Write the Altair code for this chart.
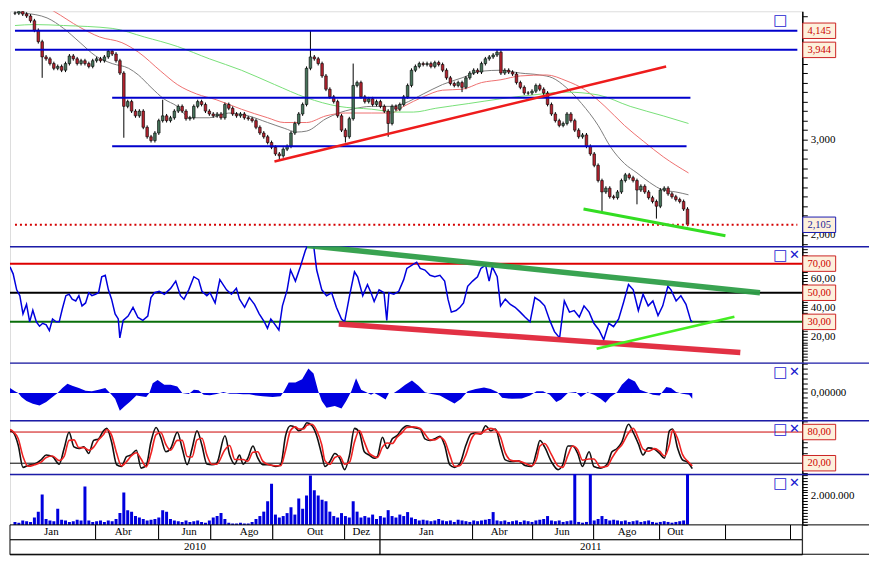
import altair as alt
import pandas as pd

# ---------------- layout / style ----------------
W = 796
EXT = 67
H_PRICE, H_RSI, H_HIST, H_STO, H_VOL, H_AX = 236, 117, 58, 54, 51, 30
SERIF = "Liberation Serif"
SEP = "#1c1ca8"
ICON = "#1a1ad0"
BOX_FILL = "#fdf0dc"
UP, DOWN = "#46735a", "#b3222e"
WICK = 0.02

# ---------------- data ----------------
close = [4.33, 4.35, 4.32, 4.30, 4.25, 4.15, 4.03, 3.87, 3.85, 3.80,
         3.75, 3.77, 3.73, 3.80, 3.88, 3.85, 3.80, 3.83, 3.80, 3.77,
         3.83, 3.85, 3.83, 3.87, 3.93, 3.90, 3.83, 3.70, 3.35, 3.40,
         3.30, 3.25, 3.30, 3.13, 3.03, 2.99, 3.07, 3.20, 3.25, 3.20,
         3.23, 3.30, 3.35, 3.30, 3.22, 3.23, 3.35, 3.40, 3.37, 3.30,
         3.27, 3.25, 3.27, 3.23, 3.37, 3.33, 3.27, 3.25, 3.27, 3.23,
         3.22, 3.20, 3.13, 3.07, 3.03, 2.97, 2.92, 2.85, 2.83, 2.90,
         2.93, 3.07, 3.17, 3.27, 3.37, 3.75, 3.87, 3.85, 3.80, 3.67,
         3.53, 3.45, 3.40, 3.25, 3.10, 3.03, 3.22, 3.57, 3.60, 3.45,
         3.40, 3.43, 3.37, 3.40, 3.35, 3.30, 3.17, 3.35, 3.32, 3.37,
         3.45, 3.57, 3.73, 3.77, 3.80, 3.79, 3.80, 3.77, 3.81, 3.79,
         3.73, 3.65, 3.59, 3.57, 3.60, 3.55, 3.65, 3.70, 3.73, 3.71,
         3.80, 3.85, 3.87, 3.89, 3.92, 3.70, 3.73, 3.71, 3.69, 3.60,
         3.55, 3.49, 3.49, 3.51, 3.57, 3.53, 3.49, 3.37, 3.27, 3.20,
         3.15, 3.17, 3.27, 3.20, 3.10, 3.03, 3.05, 2.93, 2.85, 2.73,
         2.57, 2.45, 2.49, 2.40, 2.39, 2.45, 2.57, 2.63, 2.60, 2.57,
         2.47, 2.51, 2.45, 2.39, 2.35, 2.30, 2.47, 2.49, 2.43, 2.40,
         2.37, 2.35, 2.27, 2.11]
HIGH_SPIKES = {38: 3.42, 76: 4.15, 87: 3.80, 124: 3.95}
LOW_SPIKES = {7: 3.65, 28: 3.02, 68: 2.78, 85: 2.97, 96: 3.03, 115: 3.50,
              151: 2.25, 160: 2.32, 165: 2.17}

gray_day = [0, 2.5, 8.25, 12.5, 16.75, 20.75, 25, 29.25, 31.75, 35, 38.25, 41.75, 45, 50, 55,
            60, 65, 69.25, 72.5, 75, 80, 83.25, 86.75, 91.75, 96.75, 100, 105, 110, 115, 120,
            125, 130, 135, 138.25, 141.75, 145.75, 150, 153.25, 156.75, 160, 163.25, 166.75,
            170, 173.25]
gray_val = [4.34, 4.33, 4.28, 4.17, 4.02, 3.88, 3.80, 3.75, 3.68, 3.55, 3.43, 3.35, 3.23, 3.23,
            3.28, 3.25, 3.18, 3.12, 3.08, 3.09, 3.22, 3.28, 3.32, 3.35, 3.35, 3.38, 3.48, 3.58,
            3.65, 3.72, 3.73, 3.70, 3.68, 3.65, 3.55, 3.38, 3.15, 2.92, 2.75, 2.65, 2.55, 2.47,
            2.45, 2.42]
red_day = [0, 10, 16.75, 21.75, 27.5, 31.75, 37.5, 41.75, 46.75, 51.75, 58.25, 65, 69.25, 75,
           80, 85, 91.75, 96.75, 100, 105, 110, 115, 120, 125, 130, 136.75, 141.75, 146.75,
           151.75, 156.75, 161.75, 166.75, 173.25]
red_val = [4.55, 4.35, 4.18, 4.08, 4.02, 3.92, 3.72, 3.58, 3.48, 3.42, 3.32, 3.23, 3.18, 3.18,
           3.25, 3.28, 3.28, 3.28, 3.35, 3.45, 3.52, 3.53, 3.60, 3.63, 3.67, 3.68, 3.62, 3.52,
           3.35, 3.15, 2.98, 2.82, 2.65]
green_day = [0, 5, 12.5, 25, 33.25, 41.75, 50, 58.25, 66.75, 75, 83.25, 91.75, 98.25, 102.5,
             108.25, 116.75, 125, 133.25, 141.75, 150, 158.25, 166.75, 173.25]
green_val = [4.20, 4.21, 4.20, 4.17, 4.08, 3.98, 3.85, 3.73, 3.58, 3.44, 3.35, 3.32, 3.29, 3.29,
             3.33, 3.38, 3.43, 3.47, 3.50, 3.47, 3.35, 3.25, 3.17]

# support / resistance lines: level, start day, end day
blue_level = [4.145, 3.944, 3.44, 2.93]
blue_start = [0, 0, 25, 25]
blue_end = [201.25, 201.25, 173.75, 172.75]
last_price = 2.105
price_trend_red = [66.75, 2.77, 167.5, 3.77]
price_trend_lime = [146.25, 2.27, 182.75, 1.99]

rsi_day = [0, 0.8, 1.7, 2.5, 3.3, 4.2, 5, 5.8, 6.7, 7.5, 8.3, 9.2, 10, 10.8, 11.7, 12.5, 13.3,
           14.2, 15, 15.8, 16.7, 17.5, 18.3, 19.2, 20, 20.8, 21.7, 22.5, 23.3, 24.2, 25, 25.8,
           26.7, 27.5, 27.9, 28.75, 30, 31.25, 32.5, 33.75, 35, 35.8, 36.7, 37.9, 39.2, 40.8,
           42.1, 43.3, 44.2, 45.4, 46.7, 47.9, 48.75, 50, 50.8, 52.1, 53.3, 55, 56.25, 57.5,
           58.3, 59.6, 60.8, 62.1, 63.3, 64.6, 65.4, 66.25, 67.1, 68.3, 69.2, 70.4, 71.25, 72.5,
           73.75, 75, 75.8, 77.1, 77.9, 79.2, 80.4, 81.7, 82.9, 84.2, 85, 86.25, 87.5, 88.3,
           89.6, 90.8, 91.7,
           92.5, 93.75, 95, 95.7, 96.25, 97.5, 98.75, 100, 100.8, 102.1, 103.3, 104.2, 105.4,
           106.7, 107.9, 109.2, 110.4, 111.25, 112.1, 113.3, 114.3, 115.2, 116.25, 117.5,
           118.75, 119.6, 120.8, 121.7, 122.5, 123.75, 124.6, 125.8, 127.1, 128.3, 129.6,
           130.8, 132.1, 133.3, 134.6, 135.8, 137.1, 138.3, 139.6, 140.8, 142.1, 143.3, 144.6,
           145.8, 147.1, 148.3, 149.6, 150.8, 152.1, 153.3, 154.6, 155.8, 157.1, 158.3, 159.6,
           160.8, 162.1, 163.3, 164.6, 165.8, 167.1, 167.9, 169.2, 170.4, 171.7, 172.9, 173.3]
rsi_val = [67.8, 63, 52, 48, 35.5, 42, 30, 38, 30, 27, 29, 28, 24, 32, 30, 30, 39, 48, 49, 45.6,
           44.4, 48, 41, 43, 50, 48, 49, 50, 61, 62, 52, 45.6, 35.5, 32, 19, 31, 34, 40, 33, 31,
           34, 46.7, 50, 51, 49, 53, 58, 48, 45.6, 52, 61, 59, 51, 48, 50, 43, 59, 52, 49, 53,
           45.6, 40, 46.7, 42, 35.5, 30, 25.6, 32, 29, 24.4, 41, 52, 65.6, 58, 67.8, 78.9, 84,
           83, 65.6, 52, 48, 50, 40, 32, 30, 48, 64.4, 61, 48, 55.6, 50,
           44, 52, 50, 31, 50, 49, 51, 59, 66.7, 69, 71, 66.7, 65.6, 62, 61, 62, 58, 45.6, 36.7,
           37.8, 40, 43, 54.4, 58, 61, 66.7, 69, 58, 67.8, 61, 41, 45.6, 42, 40, 36.7, 33.3, 30,
           46.7, 44.4, 41, 31, 23.3, 19, 44.4, 36.7, 37.8, 33.3, 41, 36.7, 29, 24.4, 17.8, 29,
           26.7, 32, 43, 55.6, 52, 37.8, 49, 41, 44.4, 34.4, 41, 54.4, 52, 44.4, 48, 42, 31, 30]
rsi_levels = [70, 50, 30]
rsi_level_colors = ["#dd0000", "#000000", "#0a6e0a"]
rsi_trend_dkgreen = [75.5, 82.5, 190.5, 50]
rsi_trend_red = [83.5, 28.5, 185.5, 9]
rsi_trend_lime = [149, 11.5, 184, 33.5]

hist_day = [0, 1.25, 2.1, 2.9, 4.2, 5.8, 7.5, 9.2, 10.8, 12.1, 13.3, 14.6, 15.8, 17.5, 19.2,
            20.8, 22.5, 24.2, 25.4, 26.7, 27.9, 29.2, 30.4, 32.1, 33.3, 34.6, 35.4, 36.25, 37.5,
            39.2, 40.8, 42.5, 43.75, 45.4, 46.7, 47.9, 49.2, 50.8, 52.5, 54.2, 55.8, 57.5, 59.2,
            60.8, 62.5, 64.2, 66.7, 68.75, 69.6, 70.8, 72.5, 74.2, 75.8, 77.1, 78.3, 79.2, 80.4,
            82.5, 84.2, 85.4, 86.7, 87.9, 89.2, 90.4, 91.7,
            92.5, 93.75, 95.4, 96.25, 97.5, 98.75, 100.4, 102.1, 103.75, 105.4, 107.1, 109.2,
            111.25, 112.9, 114.6, 116.25, 118.3, 120.4, 122.1, 123.75, 125, 127.5, 130, 132.1,
            133.75, 135.4, 137.1, 138.75, 140, 141.7, 143.75, 145, 146.7, 148.3, 150, 151.25,
            152.5, 154.2, 155.4, 157.1, 158.75, 160, 161.7, 163.3, 165, 166.7, 167.9, 169.2,
            170.8, 172.5, 173.3]
hist_val = [5, 1.7, 0, -4, -8.3, -11, -12.7, -9.3, -4, 0, 5, 9.3, 7.3, 5, 2.3, 1.7, 3.3, 5, 0,
            -6, -18.3, -13.3, -9.3, -2.7, -3.3, -4, 0, 10, 13.3, 8.3, 8.3, 6.7, 0, -1, 3.3, 2.7,
            -1.7, -2.3, -1, 1, -0.7, -0.7, -1.3, -1.3, -2.7, -3.3, -4, -3.3, 1.7, 10.7, 10.7, 14,
            25, 20, 1.7, -8.3, -15, -13.3, -16, -8.3, 1.7, 15, 3.3, 1, -1.7,
            0, -2.7, -6.7, 0, 0, 3.3, 8.3, 12.7, 7.3, 0.7, -1, -2.7, -7.3, -10.7, -6, 1.7, 4, 5.7,
            4, 1, -5, -6, -5.7, -2.7, 1.7, 1.7, -1.7, -9.3, -6.7, 0, 1, -4, 0.7, -1.7, -6, -10,
            -4, 0.7, 8.3, 15, 11.7, 3.3, 0.7, -1.7, -2.7, 6, 5, 1, -0.7, -1.7, -6]

sto_day = [0, 0.8, 2.1, 3.3, 4.6, 6.25, 7.9, 9.2, 10.8, 12.5, 13.75, 15, 16.25, 17.5, 18.75, 20,
           21.25, 22.5, 23.75, 24.6, 25.8, 27.1, 28.3, 29.6, 30.8, 32.1, 33.3, 34.6, 35.8, 37.1,
           38.3, 39.6, 40.8, 42.5, 43.75, 45, 46.25, 47.5, 48.75, 50, 51.25, 52.5, 54.6, 55.8,
           57.1, 58.3, 59.2, 60.4, 61.7, 62.9, 64.2, 65.8, 67.5, 68.75, 70, 71.25, 72.5, 73.3,
           74.6, 75.4, 76.7, 77.9, 79.2, 80, 81.25, 82.5, 83.75, 85, 86.25, 87.5, 88.75, 90,
           91.25,
           92.5, 93.3, 94.6, 95.8, 97.1, 98.3, 99.6, 100.8, 102.5, 104.2, 105.4, 106.7, 107.9,
           109.2, 110.4, 111.7, 112.9, 114.2, 115.8, 117.1, 118.3, 119.6, 120.8, 122.1, 123.3,
           124.6, 125.8, 127.5, 129.2, 130.8, 132.5, 133.75, 134.6, 135.8, 137.5, 139.2, 140.4,
           141.7, 142.9, 144.2, 145.4, 147.1, 148.3, 150, 151.7, 152.9, 154.2, 155.4, 157.1,
           158.3, 159.6, 160.8, 162.1, 163.75, 165, 166.25, 167.5, 168.3, 169.6, 170.8, 172.1,
           173.3]
sto_k = [82.6, 79.5, 54.5, 12, 15.8, 18.3, 26.4, 35.8, 32.6, 18.3, 48.3, 79.5, 51.4, 48.3, 51.4,
         38.8, 63.8, 67, 82.6, 87, 60.8, 17, 13.8, 32.6, 35.8, 45, 10.6, 15.8, 60.8, 88.8, 70,
         42, 48.3, 79.5, 48.3, 17, 48.3, 82.6, 54.5, 18.3, 17, 20, 73, 35.8, 18.3, 35.8, 18.3,
         29.4, 53.2, 30.6, 17, 17, 13.8, 17, 73, 92, 88.8, 82.6, 88.8, 98, 92, 73, 35.8, 13.8,
         23.2, 38.8, 29.4, 7.6, 35.8, 87, 79.5, 42, 35.8,
         29.4, 32.6, 70, 48.3, 67, 73, 85.8, 92, 88.8, 85.8, 67, 63.8, 67, 72, 54.5, 17, 12,
         18.3, 54.5, 76.3, 78.2, 76.3, 92, 82.6, 85.8, 53.2, 26.4, 23.2, 24.5, 15.8, 13.8, 42,
         63.8, 51.4, 23.2, 7.6, 17, 53.2, 53.2, 38.8, 13.8, 42, 13.8, 10.6, 18.3, 42, 48.3,
         60.8, 95, 79.5, 57.6, 35.8, 49.5, 47, 38.8, 29.4, 82.6, 85.8, 48.3, 26.4, 22, 9.5]
sto_d = [85, 81, 67, 33, 14, 17, 22, 31, 34, 25, 33, 64, 65, 50, 50, 45, 51, 65, 75, 85, 74,
         39, 15, 23, 34, 40, 28, 13, 38, 75, 79, 56, 45, 64, 64, 33, 32, 65, 68, 36, 18, 18,
         46, 54, 27, 27, 27, 24, 41, 42, 24, 17, 15, 15, 45, 83, 90, 86, 86, 93, 95, 83, 55,
         25, 18, 31, 34, 18, 22, 61, 83, 61, 39,
         33, 31, 51, 59, 58, 70, 79, 89, 90, 87, 76, 65, 65, 70, 63, 36, 14, 15, 36, 65, 77,
         77, 84, 87, 84, 70, 40, 25, 24, 20, 15, 28, 53, 58, 37, 15, 12, 35, 53, 46, 26, 28,
         28, 12, 14, 30, 45, 55, 78, 87, 68, 47, 43, 48, 43, 34, 56, 84, 67, 37, 24, 15]
sto_levels = [80, 20]
sto_level_colors = ["#cc0000", "#000000"]

# volume in millions
volume_m = [0.2, 0.15, 0.3, 0.25, 0.2, 0.5, 0.9, 2.07, 0.4, 0.3,
            0.25, 1.1, 0.35, 0.3, 0.2, 0.25, 0.35, 0.3, 2.6, 0.3,
            0.2, 0.25, 0.3, 0.2, 0.3, 0.25, 0.4, 0.8, 2.2, 1.0,
            0.9, 0.6, 0.5, 0.4, 0.3, 0.35, 0.4, 0.5, 1.0, 0.9,
            0.4, 0.3, 0.25, 0.2, 0.3, 0.2, 0.25, 0.3, 0.2, 0.15,
            0.3, 0.5, 0.6, 0.8, 0.4, 0.15, 0.1, 0.1, 0.15, 0.1,
            0.1, 0.2, 0.4, 0.6, 0.9, 1.6, 2.8, 0.7, 0.5, 0.6,
            0.8, 1.2, 0.7, 1.8, 1.1, 2.0, 3.35, 2.35, 2.0, 1.7,
            1.6, 0.9, 0.6, 0.5, 0.8, 0.6, 0.5, 1.6, 0.9, 0.5,
            0.6, 0.5, 0.7, 0.4, 0.6, 0.5, 1.0, 0.6, 0.5, 0.7,
            0.6, 0.87, 0.5, 0.4, 0.3, 0.35, 0.3, 0.25, 0.3, 0.4,
            0.3, 0.25, 0.3, 0.2, 0.35, 0.3, 0.25, 0.2, 0.3, 0.25,
            0.3, 0.35, 0.4, 0.87, 0.3, 0.25, 0.3, 0.2, 0.25, 0.3,
            0.2, 0.3, 0.25, 0.2, 0.3, 0.35, 0.4, 0.6, 0.3, 0.25,
            0.3, 0.2, 0.25, 0.3, 5.0, 0.2, 0.15, 0.2, 5.0, 0.3,
            0.4, 0.6, 0.4, 0.3, 0.35, 0.3, 0.25, 0.3, 0.2, 0.25,
            0.3, 0.2, 0.25, 0.3, 0.2, 0.15, 0.2, 0.25, 0.2, 0.15,
            0.2, 0.25, 0.3, 5.0]

MONTH_EDGES = [0, 21.75, 37.75, 51, 66.75, 85, 94, 117.5, 132.75, 148.25, 165, 181.75, 198.25, 201.25]
MONTH_LABELS = ["Jan", "Abr", "Jun", "Ago", "Out", "Dez", "Jan", "Abr", "Jun", "Ago", "Out", "", ""]
MONTH_LABEL_POS = [10.5, 28.75, 45.5, 60.75, 77.5, 89.25, 105.75, 124.25, 140.25, 156.75, 169, 190, 199.75]
YEAR_EDGES = [0, 94, 201.25]
YEAR_LABELS = ["2010", "2011"]
YEAR_LABEL_POS = [47, 147.5]

PRICE_TICKS = [round(1.9 + 0.1 * k, 1) for k in range(25)]
PRICE_LABELED = [2, 3]
RSI_TICKS = list(range(4, 82, 2))
HIST_TICKS = list(range(-25, 31, 5))
STO_TICKS = list(range(0, 101, 10))
VOL_TICKS = [k * 200000 for k in range(18)]

# ---------------- helpers ----------------
XS = alt.Scale(domain=[0, 201.25], nice=False, zero=False)


def X(f):
    return alt.X(f, scale=XS, axis=None)


def right_axis(**kw):
    base = dict(orient="right", title=None, grid=False, tickSize=5, tickColor="black",
                domainColor="black", domainWidth=1.5, labelColor="black", labelFont=SERIF,
                labelFontSize=11, labelPadding=3, labelOverlap=False, labelBound=False,
                labelFlush=False)
    base.update(kw)
    return alt.Axis(**base)


def one():
    return pd.DataFrame({"a": [0]})


def separator():
    return alt.Chart(one()).mark_rule(color=SEP, strokeWidth=1.5).encode(
        x=alt.value(0), x2=alt.value(W + EXT), y=alt.value(0.5))


def icons(with_close=True):
    sq = alt.Chart(one()).mark_text(text="□", font="DejaVu Sans", fontSize=15, color=ICON,
                                    fontWeight="bold").encode(x=alt.value(W - 22), y=alt.value(9))
    if not with_close:
        return [sq]
    cx = alt.Chart(one()).mark_text(text="✕", font="DejaVu Sans", fontSize=13, color=ICON,
                                    fontWeight="bold").encode(x=alt.value(W - 8), y=alt.value(9))
    return [sq, cx]


BOX_SHAPE = "M-1,-0.47L1,-0.47L1,0.47L-1,0.47Z"


def boxes(df, Yf):
    pts = alt.Chart(df).mark_point(shape=BOX_SHAPE, size=1089, filled=True, fill=BOX_FILL,
                                   strokeWidth=1, opacity=1).encode(
        x=alt.value(W + 17), y=Yf("val:Q"), stroke=alt.Stroke("sc:N", scale=None))
    txt = alt.Chart(df).mark_text(font=SERIF, fontSize=10.5, align="center", baseline="middle").encode(
        x=alt.value(W + 17), y=Yf("val:Q"), text="lab:N", color=alt.Color("tc:N", scale=None))
    return [pts, txt]


def trend(seg, Yf, color, width, opacity=1.0):
    df = pd.DataFrame({"x0": [seg[0]], "y0": [seg[1]], "x1": [seg[2]], "y1": [seg[3]]})
    return alt.Chart(df).mark_rule(color=color, strokeWidth=width, clip=True,
                                   opacity=opacity).encode(
        x=X("x0:Q"), y=Yf("y0:Q"), x2="x1:Q", y2="y1:Q")


# ---------------- price panel ----------------
n = len(close)
opens = [close[0]] + close[:-1]
hi = [max(o, c) + WICK for o, c in zip(opens, close)]
lo = [min(o, c) - WICK for o, c in zip(opens, close)]
for k, v in HIGH_SPIKES.items():
    hi[k] = v
for k, v in LOW_SPIKES.items():
    lo[k] = v
candles = pd.DataFrame({"day": list(range(n)), "open": opens, "close": close, "high": hi,
                        "low": lo,
                        "dir": ["up" if c >= o else "down" for o, c in zip(opens, close)]})

PS = alt.Scale(domain=[1.88, 4.35], nice=False, zero=False)
PAX = right_axis(values=PRICE_TICKS,
                 labelExpr="indexof(%s, round(datum.value * 10) / 10) >= 0 ? replace(format(datum.value, '.3f'), '.', ',') : ''" % str(PRICE_LABELED))


def PY(f):
    return alt.Y(f, scale=PS, axis=PAX)


ma = pd.concat([
    pd.DataFrame({"day": gray_day, "v": gray_val, "s": "g", "c": "#7d7d7d"}),
    pd.DataFrame({"day": red_day, "v": red_val, "s": "r", "c": "#ee7070"}),
    pd.DataFrame({"day": green_day, "v": green_val, "s": "n", "c": "#78e078"}),
])
ma_lines = alt.Chart(ma).mark_line(strokeWidth=1, clip=True, interpolate="monotone").encode(
    x=X("day:Q"), y=PY("v:Q"), color=alt.Color("c:N", scale=None), detail="s:N")

wick = alt.Chart(candles).mark_rule(color="black", strokeWidth=1, clip=True).encode(
    x=X("day:Q"), y=PY("low:Q"), y2="high:Q")
body = alt.Chart(candles).mark_bar(size=2.6, stroke="black", strokeWidth=0.6, clip=True).encode(
    x=X("day:Q"), y=PY("open:Q"), y2="close:Q",
    color=alt.Color("dir:N", scale=alt.Scale(domain=["up", "down"], range=[UP, DOWN]), legend=None))

blue_df = pd.DataFrame({"level": blue_level, "x0": blue_start, "x1": blue_end})
blue_lines = alt.Chart(blue_df).mark_rule(color="#0000cc", strokeWidth=2, clip=True).encode(
    x=X("x0:Q"), x2="x1:Q", y=PY("level:Q"))
dotted = alt.Chart(pd.DataFrame({"level": [last_price], "x0": [0], "x1": [201.25]})).mark_rule(
    color="#d40000", strokeWidth=2, strokeDash=[2, 3], clip=True).encode(
    x=X("x0:Q"), x2="x1:Q", y=PY("level:Q"))

price_boxes = pd.DataFrame({
    "val": [4.145, 3.944, last_price],
    "lab": ["4,145", "3,944", "2,105"],
    "sc": ["#cc2222", "#cc2222", "#1a1ab0"],
    "tc": ["#cc0000", "#cc0000", "#1a1a99"],
})

price = alt.layer(
    ma_lines, wick, body, blue_lines, dotted,
    trend(price_trend_red, PY, "#ee1c1c", 2.5),
    trend(price_trend_lime, PY, "#33dd22", 3),
    *boxes(price_boxes, PY),
    *icons(with_close=False),
).properties(width=W, height=H_PRICE)

# ---------------- RSI panel ----------------
RS = alt.Scale(domain=[2, 82], nice=False, zero=False)
RAX = right_axis(values=RSI_TICKS,
                 labelExpr="indexof([20, 40, 60], datum.value) >= 0 ? replace(format(datum.value, '.2f'), '.', ',') : ''")


def RY(f):
    return alt.Y(f, scale=RS, axis=RAX)


rsi_df = pd.DataFrame({"day": rsi_day, "v": rsi_val})
rsi_lv = pd.DataFrame({"level": rsi_levels, "c": rsi_level_colors, "x0": 0, "x1": 201.25})
rsi_levels_l = alt.Chart(rsi_lv).mark_rule(strokeWidth=2).encode(
    x=X("x0:Q"), x2="x1:Q", y=RY("level:Q"), color=alt.Color("c:N", scale=None))
rsi_line = alt.Chart(rsi_df).mark_line(color="#0000dd", strokeWidth=1.5, clip=True).encode(
    x=X("day:Q"), y=RY("v:Q"))
rsi_boxes = pd.DataFrame({
    "val": rsi_levels, "lab": ["70,00", "50,00", "30,00"],
    "sc": ["#cc2222"] * 3, "tc": ["#cc0000"] * 3})

rsi = alt.layer(
    separator(), rsi_levels_l, rsi_line,
    trend(rsi_trend_dkgreen, RY, "#2e9e48", 5.5, 0.95),
    trend(rsi_trend_red, RY, "#e0263a", 5.5, 0.95),
    trend(rsi_trend_lime, RY, "#44ee22", 2.5),
    *boxes(rsi_boxes, RY),
    *icons(),
).properties(width=W, height=H_RSI)

# ---------------- histogram panel ----------------
HS = alt.Scale(domain=[-28, 31], nice=False, zero=False)
HAX = right_axis(values=HIST_TICKS,
                 labelExpr="datum.value == 0 ? replace(format(datum.value, '.5f'), '.', ',') : ''")


def HY(f):
    return alt.Y(f, scale=HS, axis=HAX)


hist_df = pd.DataFrame({"day": hist_day, "h": hist_val})
hist_area = alt.Chart(hist_df).mark_area(color="#0000e0", clip=True).encode(
    x=X("day:Q"), y=HY("h:Q"), y2=alt.datum(0))
hist = alt.layer(separator(), hist_area, *icons()).properties(width=W, height=H_HIST)

# ---------------- stochastic panel ----------------
SS = alt.Scale(domain=[-1, 102.5], nice=False, zero=False)
SAX = right_axis(values=STO_TICKS, labels=False)


def SY(f):
    return alt.Y(f, scale=SS, axis=SAX)


sto_df = pd.DataFrame({"day": sto_day, "k": sto_k, "d": sto_d})
sto_lv = pd.DataFrame({"level": sto_levels, "c": sto_level_colors, "x0": 0, "x1": 201.25})
sto_levels_l = alt.Chart(sto_lv).mark_rule(strokeWidth=1).encode(
    x=X("x0:Q"), x2="x1:Q", y=SY("level:Q"), color=alt.Color("c:N", scale=None))
k_line = alt.Chart(sto_df).mark_line(color="#111111", strokeWidth=1.6, clip=True,
                                     interpolate="monotone").encode(x=X("day:Q"), y=SY("k:Q"))
d_line = alt.Chart(sto_df).mark_line(color="#ee2222", strokeWidth=1.6, clip=True,
                                     interpolate="monotone").encode(x=X("day:Q"), y=SY("d:Q"))
sto_boxes = pd.DataFrame({"val": sto_levels, "lab": ["80,00", "20,00"],
                          "sc": ["#cc2222"] * 2, "tc": ["#cc0000"] * 2})
sto = alt.layer(separator(), sto_levels_l, k_line, d_line, *boxes(sto_boxes, SY),
                *icons()).properties(width=W, height=H_STO)

# ---------------- volume panel ----------------
VS = alt.Scale(domain=[0, 3450000], nice=False, zero=True)
VAX = right_axis(values=VOL_TICKS,
                 labelExpr="datum.value == 2000000 ? replace(replace(format(datum.value, ',d'), ',', '.'), ',', '.') : ''")


def VY(f):
    return alt.Y(f, scale=VS, axis=VAX)


vol_df = pd.DataFrame({"day": list(range(len(volume_m))),
                       "vol": [v * 1000000 for v in volume_m]})
vol_bars = alt.Chart(vol_df).mark_bar(size=3.0, color="#0000dd", clip=True).encode(
    x=X("day:Q"), y=VY("vol:Q"))
vol = alt.layer(separator(), vol_bars, *icons()).properties(width=W, height=H_VOL)

# ---------------- time axis panel ----------------
ROWY = alt.Y("row:N", scale=alt.Scale(domain=["m", "y"], paddingInner=0, paddingOuter=0), axis=None)
cells = pd.concat([
    pd.DataFrame({"start": MONTH_EDGES[:-1], "end": MONTH_EDGES[1:], "row": "m"}),
    pd.DataFrame({"start": YEAR_EDGES[:-1], "end": YEAR_EDGES[1:], "row": "y"}),
])
labels = pd.concat([
    pd.DataFrame({"pos": MONTH_LABEL_POS, "label": MONTH_LABELS, "row": "m"}),
    pd.DataFrame({"pos": YEAR_LABEL_POS, "label": YEAR_LABELS, "row": "y"}),
])
cell_rects = alt.Chart(cells).mark_rect(fill="white", stroke="black", strokeWidth=1).encode(
    x=X("start:Q"), x2="end:Q", y=ROWY)
cell_text = alt.Chart(labels).mark_text(font=SERIF, fontSize=11, baseline="middle",
                                        color="black").encode(
    x=X("pos:Q"), y=ROWY, text="label:N")
top_ext = alt.Chart(one()).mark_rule(color="black", strokeWidth=1).encode(
    x=alt.value(W), x2=alt.value(W + EXT), y=alt.value(0))
bottom_ext = alt.Chart(one()).mark_rule(color="black", strokeWidth=1).encode(
    x=alt.value(0), x2=alt.value(W + EXT), y=alt.value(H_AX - 0.5))
axis_panel = alt.layer(cell_rects, cell_text, top_ext, bottom_ext).properties(
    width=W, height=H_AX)

chart = alt.vconcat(price, rsi, hist, sto, vol, axis_panel, spacing=0, bounds="flush").properties(
    padding=0
).configure_view(strokeWidth=0).configure(background="white")

chart.save("out.html", embed_options={"renderer": "svg", "actions": False})
